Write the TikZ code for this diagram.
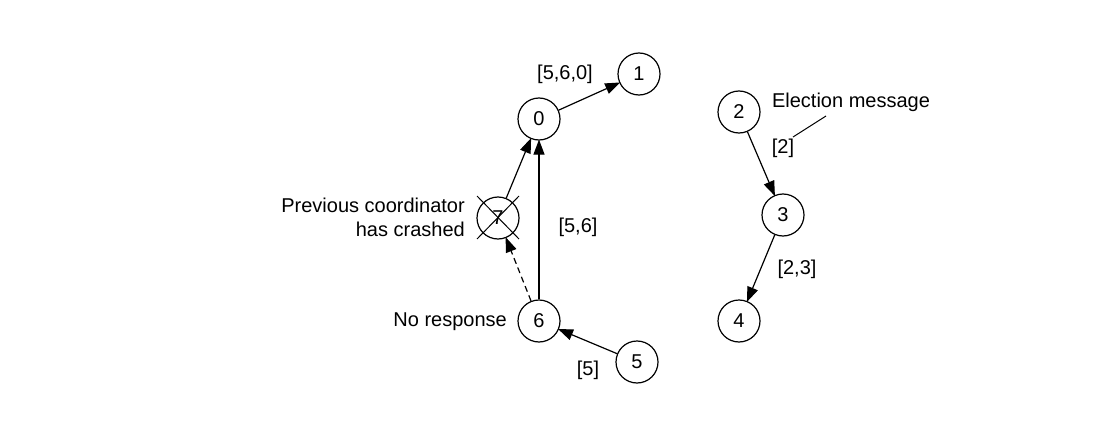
\documentclass[tikz,border=0pt]{standalone}
\usepackage{fontspec}
\setmainfont{Liberation Sans}
\usetikzlibrary{arrows.meta}
\begin{document}
\begin{tikzpicture}[x=1pt,y=-1pt,
 proc/.style={circle,draw,line width=1.2pt,minimum size=42pt,inner sep=0pt,font=\fontsize{20}{23}\selectfont},
 lbl/.style={font=\fontsize{20}{24}\selectfont,inner sep=0pt},
 msg/.style={-{Triangle[length=15pt,width=11pt]},line width=1.2pt,shorten >=-1pt},
 lead/.style={line width=1pt},
]
\useasboundingbox (0,0) rectangle (1114,428);
\node[proc] (n0) at (539,119) {0};
\node[proc] (n1) at (639,74) {1};
\node[proc] (n7) at (498,218) {7};
\node[proc] (n6) at (539,321) {6};
\node[proc] (n5) at (637,362) {5};
\node[proc] (n2) at (739,112) {2};
\node[proc] (n3) at (783,215) {3};
\node[proc] (n4) at (739,321) {4};
% crash cross
\draw[lead] ([shift={(-21,-22)}]n7.center) coordinate (c1) -- ([shift={(21,21)}]n7.center) coordinate (c2);
\draw[lead] ([shift={(21,-22)}]n7.center) coordinate (c3) -- ([shift={(-21,21)}]n7.center) coordinate (c4);
% messages
\draw[msg] (n0) -- (n1);
\draw[msg] (n7) -- (n0);
\draw[msg] (n6) -- (n0);
\draw[msg,dash pattern=on 6pt off 4pt] (n6) -- (n7);
\draw[msg] (n5) -- (n6);
\draw[msg] (n2) -- (n3);
\draw[msg] (n3) -- (n4);
% labels
\node[lbl] (l560) at (565,74) {[5,6,0]};
\node[lbl] (l56) at (578,227) {[5,6]};
\node[lbl] (l5) at (588,370) {[5]};
\node[lbl] (l2) at (783,148) {[2]};
\node[lbl] (l23) at (797,269) {[2,3]};
\node[lbl,align=right,anchor=east] (prev) at (465,217) {Previous coordinator\\has crashed};
\node[lbl,anchor=east] (nores) at (507,322) {No response};
\node[lbl] (elec) at (851,102) {Election message};
\coordinate (e1) at (826,116);
\coordinate (e2) at (793,137);
\draw[lead] (e1) -- (e2);
\end{tikzpicture}
\end{document}
